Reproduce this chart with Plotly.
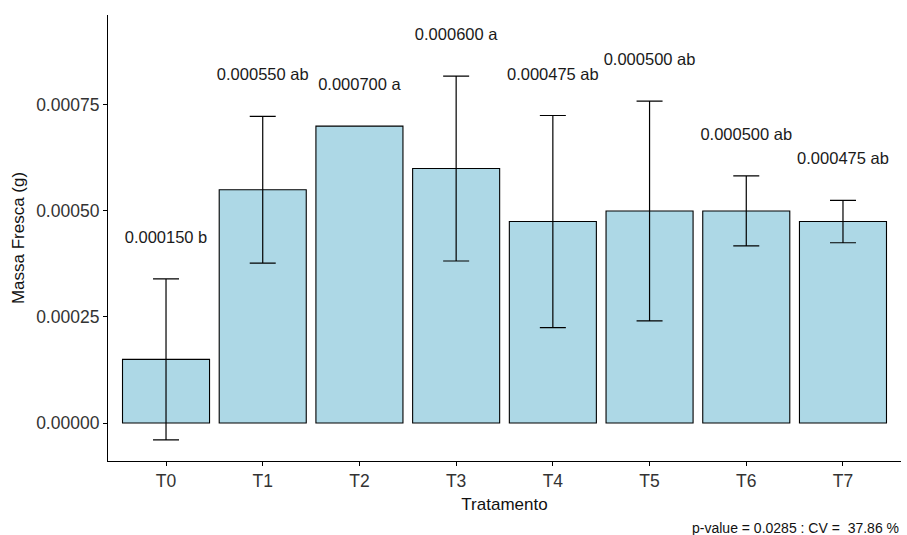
import plotly.graph_objects as go

categories = ["T0", "T1", "T2", "T3", "T4", "T5", "T6", "T7"]
means = [0.000150, 0.000550, 0.000700, 0.000600, 0.000475, 0.000500, 0.000500, 0.000475]
sds = [0.000190, 0.000173, 0.0, 0.000218, 0.000250, 0.000259, 0.0000825, 0.0000500]
groups = ["b", "ab", "a", "a", "ab", "ab", "ab", "ab"]
label_texts = [f"{m:.6f} {g}" for m, g in zip(means, groups)]
yticks = [0.0, 0.00025, 0.0005, 0.00075]
ytick_text = ["0.00000", "0.00025", "0.00050", "0.00075"]
caption = "p-value = 0.0285 : CV =\u00a0\u00a037.86 %"

label_offset = 0.0000945
label_y = [m + s + label_offset for m, s in zip(means, sds)]

# only draw error bars where the sd is non-zero
eb_x = [c for c, s in zip(categories, sds) if s > 0]
eb_y = [m for m, s in zip(means, sds) if s > 0]
eb_s = [s for s in sds if s > 0]

fig = go.Figure()
fig.add_trace(go.Bar(
    x=categories, y=means, width=0.9,
    marker=dict(color="#ADD8E6", line=dict(color="black", width=1.1)),
    showlegend=False,
))
fig.add_trace(go.Scatter(
    x=eb_x, y=eb_y, mode="markers", marker=dict(size=0.1, color="rgba(0,0,0,0)"),
    error_y=dict(type="data", array=eb_s, visible=True, color="black", thickness=1.2, width=13),
    showlegend=False, hoverinfo="skip",
))
fig.add_trace(go.Scatter(
    x=categories, y=label_y, mode="text", text=label_texts,
    textposition="middle center",
    textfont=dict(family="Liberation Sans, Arial, sans-serif", size=16.5, color="#1a1a1a"),
    showlegend=False, hoverinfo="skip",
))

fig.update_layout(
    width=907, height=535,
    margin=dict(l=108, r=6, t=15, b=74),
    plot_bgcolor="white", paper_bgcolor="white",
    font=dict(family="Liberation Sans, Arial, sans-serif", color="black"),
    bargap=0.1,
    xaxis=dict(
        range=[-0.6, 7.6], showline=True, linecolor="black", linewidth=1.2,
        ticks="outside", ticklen=4, tickcolor="black", tickwidth=1,
        tickfont=dict(size=17.5, color="#333333"),
        title=dict(text="Tratamento", font=dict(size=17, color="#111111"), standoff=8),
        showgrid=False, zeroline=False,
    ),
    yaxis=dict(
        range=[-0.0000896, 0.000962], showline=True, linecolor="black", linewidth=1.2,
        ticks="outside", ticklen=4, tickcolor="black", tickwidth=1,
        tickvals=yticks, ticktext=ytick_text,
        tickfont=dict(size=17.5, color="#333333"),
        title=dict(text="Massa Fresca (g)", font=dict(size=17, color="#111111"), standoff=7),
        showgrid=False, zeroline=False,
    ),
    annotations=[dict(
        text=caption, xref="paper", yref="paper", x=1.0, y=0, yshift=-57,
        xanchor="right", yanchor="top", showarrow=False,
        font=dict(size=14, color="#111111"),
    )],
)

fig.write_html("out.html")
